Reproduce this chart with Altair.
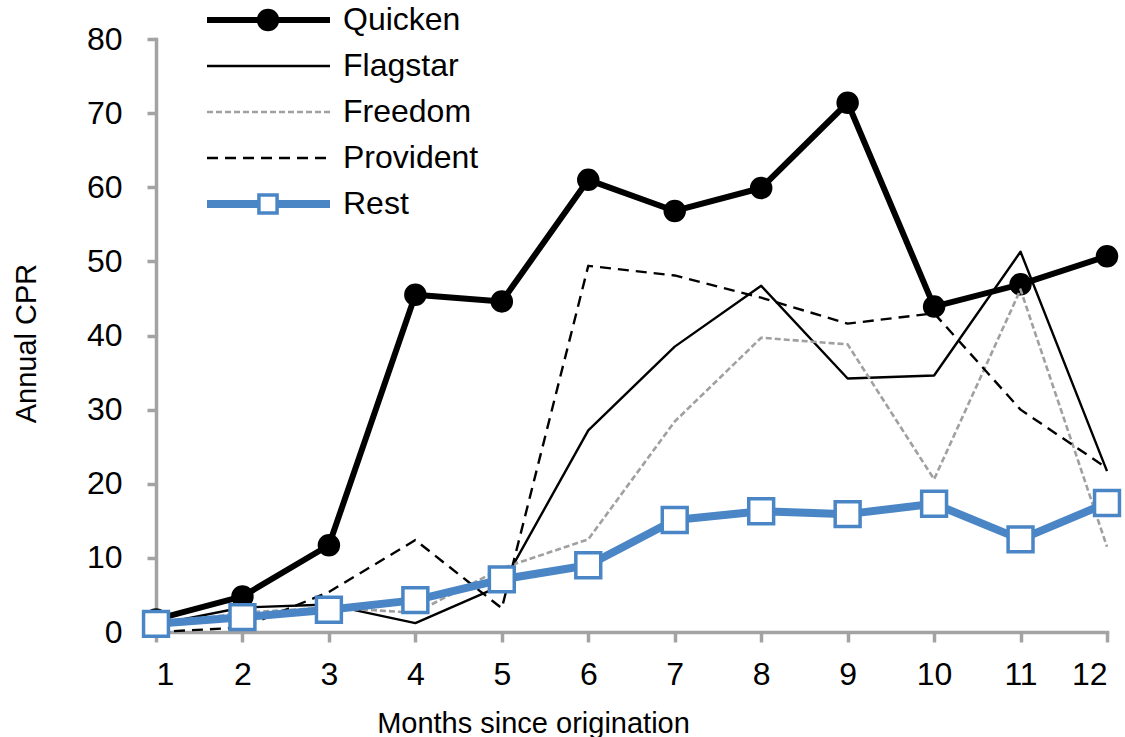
import altair as alt
import pandas as pd

months = list(range(1, 13))
series_names = ["Quicken", "Flagstar", "Freedom", "Provident", "Rest"]
quicken = [1.7, 4.8, 11.7, 45.5, 44.6, 61.0, 56.8, 59.9, 71.4, 43.9, 46.9, 50.7]
flagstar = [1.0, 3.3, 3.7, 1.2, 6.3, 27.2, 38.5, 46.7, 34.2, 34.6, 51.3, 21.7]
freedom = [1.0, 2.6, 3.3, 2.6, 8.6, 12.5, 28.4, 39.7, 38.8, 20.6, 46.2, 11.5]
provident = [0.0, 0.6, 5.4, 12.4, 3.2, 49.4, 48.1, 45.1, 41.6, 43.0, 30.0, 22.1]
rest = [1.1, 2.0, 3.0, 4.3, 7.1, 9.0, 15.1, 16.3, 15.9, 17.3, 12.5, 17.4]
y_ticks = [0, 10, 20, 30, 40, 50, 60, 70, 80]

values = [quicken, flagstar, freedom, provident, rest]
df = pd.DataFrame(
    [{"month": m, "cpr": v, "series": s}
     for s, vals in zip(series_names, values) for m, v in zip(months, vals)]
)

FONT = "Liberation Sans"
GRAY = "#a3a3a3"
BLUE = "#4a86c6"

styles = {
    "Quicken": dict(color="black", width=6, dash=None, point="circle"),
    "Flagstar": dict(color="black", width=2.4, dash=None, point=None),
    "Freedom": dict(color="#a0a0a0", width=2.6, dash=[6, 3], point=None),
    "Provident": dict(color="black", width=2.4, dash=[11, 7], point=None),
    "Rest": dict(color=BLUE, width=8, dash=None, point="square"),
}

x_enc = alt.X("month:Q", scale=alt.Scale(domain=[1, 12], nice=False, zero=False),
              axis=alt.Axis(values=months, title="Months since origination",
                            tickSize=10, labelPadding=17, titleX=377, titleY=100,
                            titleAlign="center", titleBaseline="alphabetic"))
y_enc = alt.Y("cpr:Q", scale=alt.Scale(domain=[0, 80], nice=False),
              axis=alt.Axis(values=y_ticks, title="Annual CPR", tickSize=9,
                            labelPadding=25, titleX=-121, titleY=304, titleAngle=-90,
                            titleAlign="center", titleBaseline="alphabetic"))

LEG_Y0 = -19
LEG_DY = 46
LEG_X1, LEG_X2, LEG_XM, LEG_XT = 51, 174, 112, 187

layers = []
legend_layers = []
for i, name in enumerate(series_names):
    st = styles[name]
    line_kw = dict(stroke=st["color"], strokeWidth=st["width"], strokeJoin="round", strokeCap="butt")
    if st["dash"]:
        line_kw["strokeDash"] = st["dash"]
    base = alt.Chart(df).transform_filter(alt.datum.series == name)
    layers.append(base.mark_line(**line_kw).encode(x=x_enc, y=y_enc))
    if st["point"] == "circle":
        layers.append(base.mark_point(shape="circle", filled=True, fill="black", stroke="black",
                                      size=420, opacity=1).encode(x=x_enc, y=y_enc))
    elif st["point"] == "square":
        layers.append(base.mark_point(shape="square", filled=True, fill="white", stroke=BLUE,
                                      strokeWidth=3.5, size=620, opacity=1).encode(x=x_enc, y=y_enc))
    ly = LEG_Y0 + i * LEG_DY
    ldf = pd.DataFrame({"s": [name]})
    legend_layers.append(alt.Chart(ldf).mark_rule(**line_kw).encode(
        x=alt.value(LEG_X1), x2=alt.value(LEG_X2), y=alt.value(ly)))
    if st["point"] == "circle":
        legend_layers.append(alt.Chart(ldf).mark_point(shape="circle", filled=True, fill="black",
                                                       stroke="black", size=420, opacity=1).encode(
            x=alt.value(LEG_XM), y=alt.value(ly)))
    elif st["point"] == "square":
        legend_layers.append(alt.Chart(ldf).mark_point(shape="square", filled=True, fill="white",
                                                       stroke=BLUE, strokeWidth=3.5, size=330,
                                                       opacity=1).encode(
            x=alt.value(LEG_XM), y=alt.value(ly)))
    legend_layers.append(alt.Chart(ldf).mark_text(align="left", baseline="middle", font=FONT,
                                                  fontSize=32, color="black").encode(
        x=alt.value(LEG_XT), y=alt.value(ly), text="s:N"))

chart = alt.layer(*layers, *legend_layers).properties(
    width=951, height=593,
    autosize=alt.AutoSizeParams(type="none"),
    padding={"left": 156, "top": 39, "right": 18, "bottom": 105},
    background="white",
).configure_view(stroke=None).configure_axis(
    grid=False, domainColor=GRAY, domainWidth=3.5, tickColor=GRAY, tickWidth=3.5,
    labelFont=FONT, labelFontSize=32, labelColor="black", titleFont=FONT, titleFontSize=29,
    titleFontWeight="normal", titleColor="black", domainCap="square",
)

chart.save("out.html", embed_options={"renderer": "svg", "actions": False})
